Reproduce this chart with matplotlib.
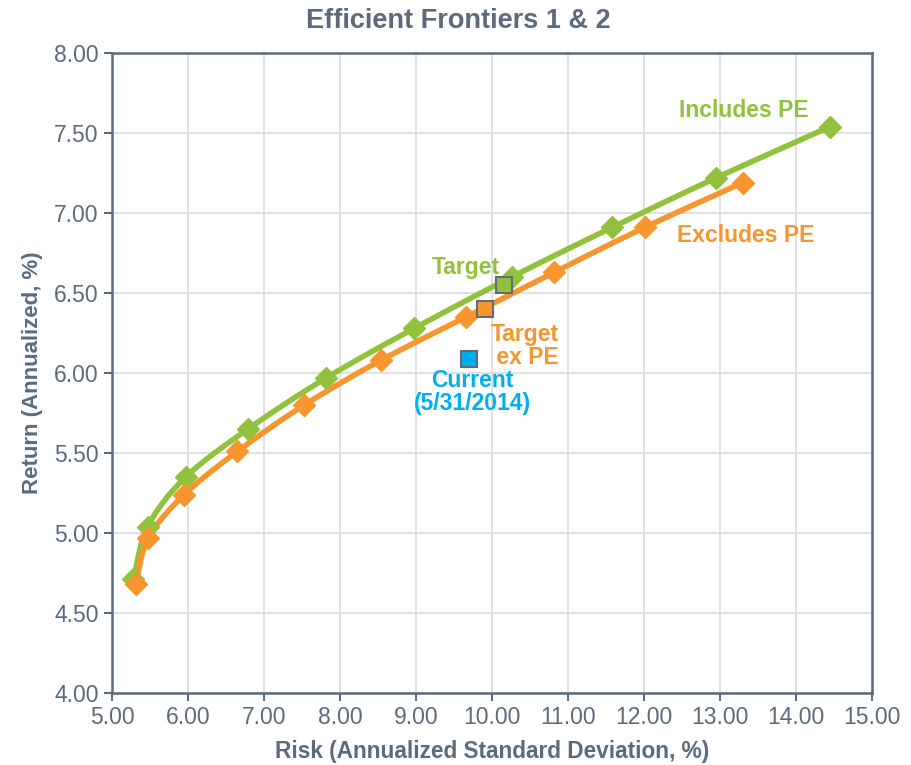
import numpy as np
import matplotlib.pyplot as plt

# Efficient frontier including private equity
incl_risk = [5.28, 5.47, 5.97, 6.79, 7.82, 8.98, 10.26, 11.58, 12.95, 14.45]
incl_ret = [4.71, 5.04, 5.35, 5.65, 5.97, 6.28, 6.60, 6.91, 7.22, 7.54]

# Efficient frontier excluding private equity
excl_risk = [5.31, 5.48, 5.95, 6.65, 7.53, 8.54, 9.66, 10.82, 12.01, 13.30]
excl_ret = [4.68, 4.97, 5.24, 5.51, 5.80, 6.08, 6.35, 6.63, 6.91, 7.19]

# Portfolios
target = (10.16, 6.55)
target_ex = (9.91, 6.40)
current = (9.70, 6.09)

x_ticks = np.arange(5, 15.01, 1.0)
y_ticks = np.arange(4, 8.01, 0.5)

GREEN = '#92c13e'
ORANGE = '#f7962f'
BLUE = '#00aeef'
SLATE = '#5b6b7b'
EDGE = '#5f6b76'

plt.rcParams['font.family'] = ['Liberation Sans', 'DejaVu Sans']


def smooth(xs, ys, n=20):
    # Catmull-Rom curve through the points, like a smoothed line
    p = np.column_stack([xs, ys])
    p = np.vstack([2 * p[0] - p[1], p, 2 * p[-1] - p[-2]])
    out = []
    t = np.linspace(0, 1, n, endpoint=False)[:, None]
    for i in range(1, len(p) - 2):
        p0, p1, p2, p3 = p[i - 1], p[i], p[i + 1], p[i + 2]
        c = 0.5 * (2 * p1 + (-p0 + p2) * t + (2 * p0 - 5 * p1 + 4 * p2 - p3) * t ** 2
                   + (-p0 + 3 * p1 - 3 * p2 + p3) * t ** 3)
        out.append(c)
    out.append(p[-2][None, :])
    out = np.vstack(out)
    return out[:, 0], out[:, 1]


fig = plt.figure(figsize=(9.12, 7.65), dpi=100)
ax = fig.add_axes([0.1228, 0.0941, 0.8333, 0.8366])

for xs, ys, col in [(incl_risk, incl_ret, GREEN), (excl_risk, excl_ret, ORANGE)]:
    sx, sy = smooth(xs, ys)
    ax.plot(sx, sy, color=col, lw=4, solid_capstyle='round', zorder=3)
    ax.plot(xs, ys, ls='none', marker='D', ms=11, color=col, zorder=4)

ax.plot(*target, marker='s', ms=12, color=GREEN, mec=EDGE, mew=1.5, ls='none', zorder=5)
ax.plot(*target_ex, marker='s', ms=12, color=ORANGE, mec=EDGE, mew=1.5, ls='none', zorder=5)
ax.plot(*current, marker='s', ms=12, color=BLUE, mec=EDGE, mew=1.5, ls='none', zorder=5)

lab = dict(fontsize=16.5, fontweight='bold')
ax.text(14.17, 7.64, 'Includes PE', color=GREEN, ha='right', va='center', **lab)
ax.text(12.43, 6.86, 'Excludes PE', color=ORANGE, ha='left', va='center', **lab)
ax.text(10.10, 6.66, 'Target', color=GREEN, ha='right', va='center', **lab)
ax.text(10.43, 6.17, 'Target\n ex PE', color=ORANGE, ha='center', va='center',
        linespacing=1.0, **lab)
ax.text(9.74, 5.88, 'Current\n(5/31/2014)', color=BLUE, ha='center', va='center',
        linespacing=1.0, **lab)

ax.set_xlim(5, 15)
ax.set_ylim(4, 8)
ax.set_xticks(x_ticks)
ax.set_yticks(y_ticks)
ax.set_xticklabels([f'{v:.2f}' for v in x_ticks])
ax.set_yticklabels([f'{v:.2f}' for v in y_ticks])
ax.grid(True, color='#dcdcdc', lw=1.2, zorder=0)
ax.set_axisbelow(True)
for s in ax.spines.values():
    s.set_color(SLATE)
    s.set_linewidth(1.8)
ax.tick_params(colors=SLATE, labelsize=16.5, length=6, width=1.5, direction='out')

ax.set_xlabel('Risk (Annualized Standard Deviation, %)', fontsize=16.3, fontweight='bold',
              color=SLATE, labelpad=8)
ax.set_ylabel('Return (Annualized, %)', fontsize=16, fontweight='bold', color=SLATE,
              labelpad=8)
fig.suptitle('Efficient Frontiers 1 & 2', fontsize=19.5, fontweight='bold', color=SLATE,
             x=0.502, y=0.972, va='center')

fig.savefig('out.png', dpi=100)
